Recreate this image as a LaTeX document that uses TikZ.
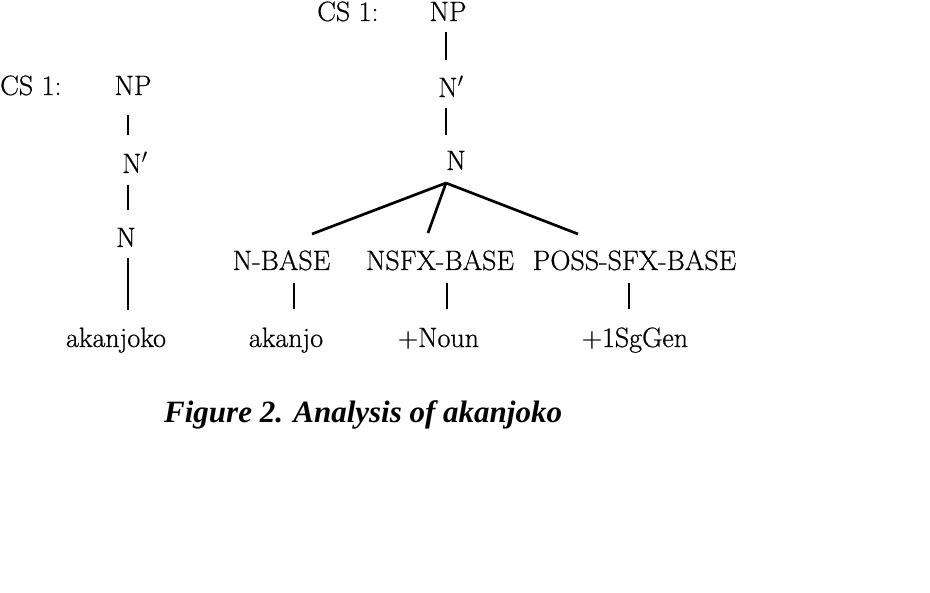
\documentclass[tikz,border=0pt]{standalone}
\usepackage{fontspec}
\newfontfamily\treefont{Latin Modern Roman}[FakeBold=0.6]
\newfontfamily\capfont{Liberation Serif}
\usetikzlibrary{calc}
\tikzset{
  lab/.style={inner sep=0pt, anchor=base, font=\treefont\fontsize{28}{32}\selectfont},
  labw/.style={lab, anchor=base west},
  edge/.style={line width=2.7pt},
  captext/.style={inner sep=0pt, anchor=base west, font=\capfont\bfseries\itshape\fontsize{31}{36}\selectfont}
}
\begin{document}
\begin{tikzpicture}[x=1pt,y=-1pt]
\useasboundingbox (0,0) rectangle (930,593);
% left tree
\node[labw] (lcs) at (0,95) {CS 1:};
\node[lab] (lnp) at (133,95) {NP};
\node[lab] (lnb) at (135,173) {N$'$};
\node[lab] (ln) at (126,247) {N};
\node[lab] (lw) at (116,347) {akanjoko};
\draw[edge] ($(lnp.base)+(-5,20)$) -- ($(lnb.base)+(-7,-38)$);
\draw[edge] ($(lnb.base)+(-7,12)$) -- ($(ln.base)+(2,-37)$);
\draw[edge] ($(ln.base)+(2,11)$) -- ($(lw.base)+(12,-37)$);
% right tree
\node[labw] (rcs) at (317,21) {CS 1:};
\node[lab] (rnp) at (448,21) {NP};
\node[lab] (rnb) at (451,97) {N$'$};
\node[lab] (rn) at (456,170) {N};
\node[lab] (nb) at (281.5,270) {N-BASE};
\node[lab] (ns) at (440,270) {NSFX-BASE};
\node[lab] (ps) at (634.5,270) {POSS-SFX-BASE};
\node[lab] (w1) at (286,347) {akanjo};
\node[lab] (w2) at (438.5,347) {+Noun};
\node[lab] (w3) at (635,347) {+1SgGen};
\draw[edge] ($(rnp.base)+(-2,11)$) -- ($(rnb.base)+(-5,-37)$);
\draw[edge] ($(rnb.base)+(-5,11)$) -- ($(rn.base)+(-10,-35)$);
\coordinate (apex) at ($(rn.base)+(-10,13)$);
\draw[edge] (apex) -- ($(nb.base)+(30.5,-36)$);
\draw[edge] (apex) -- ($(ns.base)+(-12,-37)$);
\draw[edge] (apex) -- ($(ps.base)+(-56.5,-36)$);
\draw[edge] ($(nb.base)+(12.5,13)$) -- ($(w1.base)+(8,-38)$);
\draw[edge] ($(ns.base)+(7,13)$) -- ($(w2.base)+(8.5,-38)$);
\draw[edge] ($(ps.base)+(-5.5,13)$) -- ($(w3.base)+(-6,-38)$);
% caption
\node[captext] (cap) at (164,423) {Figure 2. Analysis of akanjoko};
\end{tikzpicture}
\end{document}
